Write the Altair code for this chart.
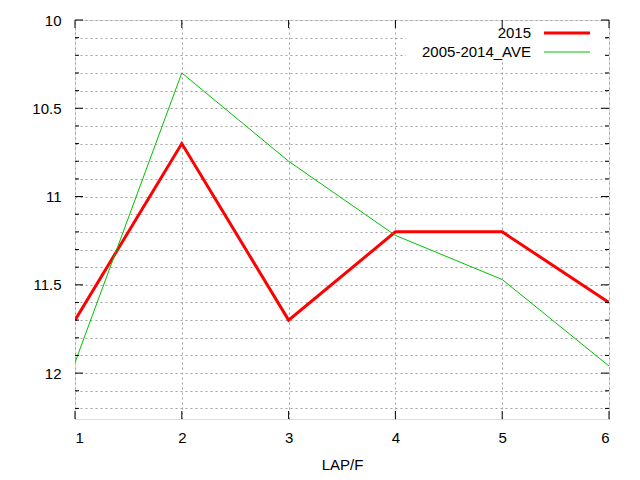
import altair as alt
import pandas as pd

laps = [1, 2, 3, 4, 5, 6]
s2015 = [11.7, 10.7, 11.7, 11.2, 11.2, 11.6]
ave = [11.94, 10.30, 10.80, 11.22, 11.47, 11.96]
series_names = ["2015", "2005-2014_AVE"]
series_colors = ["#ff0000", "#00c000"]
series_widths = [3, 1]
y_grid = [round(10 + 0.1 * i, 1) for i in range(23)]
y_major = [10, 10.5, 11, 11.5, 12]
y_minor = [v for v in y_grid if v not in y_major]
x_ticks = laps

W, H = 534, 399
FONT = "Liberation Sans"

df = pd.DataFrame({
    "lap": laps * 2,
    "value": s2015 + ave,
    "series": [series_names[0]] * 6 + [series_names[1]] * 6,
})

xs = alt.Scale(domain=[1, 6], nice=False, zero=False)
ys = alt.Scale(domain=[10, 12.26], nice=False, zero=False, reverse=True)

xa = alt.Axis(values=x_ticks, format="d", grid=True, gridColor="#a0a0a0", gridDash=[2, 3],
              gridOpacity=1, ticks=False, domain=False, labelPadding=11,
              labelFontSize=15, labelFont=FONT, labelColor="#000",
              titleFontSize=15, titleFont=FONT, titleFontWeight="normal",
              titleColor="#000", titlePadding=12)
ya = alt.Axis(values=y_grid, grid=True, gridColor="#a0a0a0", gridDash=[2, 3],
              gridOpacity=1, ticks=False, domain=False, labelPadding=14,
              labelExpr="abs(datum.value*2 - round(datum.value*2)) < 0.001 ? '' + round(datum.value*10)/10 : ''",
              labelFontSize=15, labelFont=FONT, labelColor="#000")

def X(field):
    return alt.X(field, type="quantitative", scale=xs, title="LAP/F", axis=xa)

def Y(field):
    return alt.Y(field, type="quantitative", scale=ys, title=None, axis=ya)

color = alt.Color("series:N", scale=alt.Scale(domain=series_names, range=series_colors), legend=None)
sw = alt.StrokeWidth("series:N", scale=alt.Scale(domain=series_names, range=series_widths), legend=None)

lines = alt.Chart(df).mark_line(strokeJoin="miter", clip=True).encode(
    x=X("lap"), y=Y("value"),
    color=color, strokeWidth=sw,
    order=alt.Order("lap:Q"), detail="series:N",
)

# legend box (white, clears grid)
box = alt.Chart(pd.DataFrame({"a": [0]})).mark_rect(color="white").encode(
    x=alt.value(331), x2=alt.value(529), y=alt.value(1), y2=alt.value(40))

leg_df = pd.DataFrame({"series": series_names, "row": [0, 1]})
leg_base = alt.Chart(leg_df).transform_calculate(py="13 + datum.row * 19")
leg_text = leg_base.mark_text(align="right", baseline="middle", fontSize=15, font=FONT,
                              color="#000").encode(
    x=alt.value(456), y=alt.Y("py:Q", scale=None), text="series:N")
leg_line = leg_base.mark_rule().encode(
    x=alt.value(469), x2=alt.value(515), y=alt.Y("py:Q", scale=None),
    color=color, strokeWidth=sw)

# inward ticks
def yticks(vals, length):
    d = pd.DataFrame({"value": vals})
    left = alt.Chart(d).mark_rule(color="#000").encode(
        y=Y("value"), x=alt.value(0), x2=alt.value(length))
    right = alt.Chart(d).mark_rule(color="#000").encode(
        y=Y("value"), x=alt.value(W - length), x2=alt.value(W))
    return [left, right]

def xticks(vals, length):
    d = pd.DataFrame({"lap": vals})
    bottom = alt.Chart(d).mark_rule(color="#000").encode(
        x=X("lap"), y=alt.value(H - length), y2=alt.value(H))
    top = alt.Chart(d).mark_rule(color="#000").encode(
        x=X("lap"), y=alt.value(0), y2=alt.value(length))
    return [bottom, top]

tick_layers = yticks(y_major, 8) + yticks(y_minor, 4) + xticks(x_ticks, 8)

chart = alt.layer(lines, box, leg_line, leg_text, *tick_layers).properties(
    width=W, height=H,
    autosize=alt.AutoSizeParams(type="none"),
    padding={"left": 67, "top": 12, "right": 20, "bottom": 60},
).configure_view(stroke="#000", strokeWidth=1).configure(background="white")

chart.save("out.html", embed_options={"renderer": "svg", "actions": False})
